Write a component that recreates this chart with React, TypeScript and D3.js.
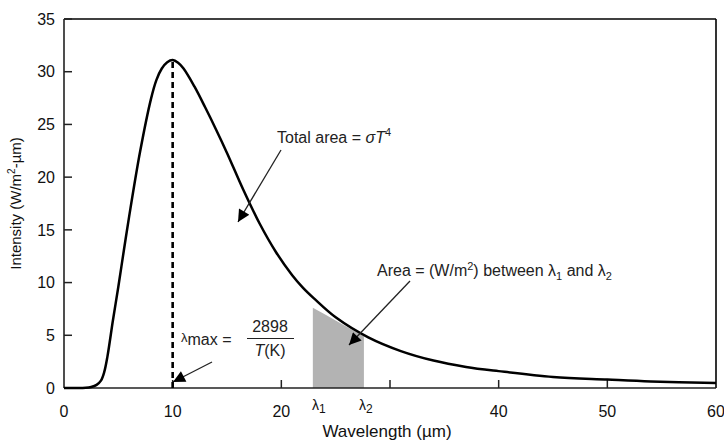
import React from 'react';
import * as d3 from 'd3';

// curve: wavelength (um) and intensity (W/m2-um)
const wavelengths = [0, 1, 2, 2.5, 3, 3.4, 3.7, 4, 4.5, 5, 5.5, 6, 7, 8, 8.5, 9, 9.5, 10, 10.5, 11, 12, 13, 14, 15, 16.5, 18, 19.5, 21, 22, 23, 25, 28, 31, 34, 37, 40, 45, 50, 54, 60];
const intensities = [0, 0, 0.02, 0.1, 0.3, 0.7, 1.5, 3.0, 6.4, 9.6, 13.0, 16.3, 22.4, 27.4, 29.2, 30.3, 30.9, 31.1, 30.85, 30.3, 28.6, 26.6, 24.5, 22.3, 18.8, 15.6, 12.9, 10.7, 9.5, 8.5, 6.7, 4.8, 3.5, 2.6, 2.0, 1.6, 1.05, 0.8, 0.62, 0.48];

// shaded band between lambda1 and lambda2 (top edge)
const shadeWavelengths = [22.9, 25, 27.6];
const shadeTops = [7.6, 6.4, 4.9];

const xTicks = [0, 10, 20, 30, 40, 50, 60];
const xTickLabels = ['0', '10', '20', '', '40', '50', '60'];
const yTicks = [0, 5, 10, 15, 20, 25, 30, 35];
const peakWavelength = 10;
const peakIntensity = 31.1;

const width = 724;
const height = 440;
const margin = { top: 19, right: 8, bottom: 52, left: 64 };

export default function App() {
  const x = d3.scaleLinear().domain([0, 60]).range([margin.left, width - margin.right]);
  const y = d3.scaleLinear().domain([0, 35]).range([height - margin.bottom, margin.top]);

  const pts = wavelengths.map((w, i) => [w, intensities[i]] as [number, number]);
  const line = d3.line<[number, number]>()
    .x(d => x(d[0]))
    .y(d => y(d[1]))
    .curve(d3.curveCatmullRom.alpha(0.5));

  const shadePts = shadeWavelengths.map((w, i) => [w, shadeTops[i]] as [number, number]);
  const area = d3.area<[number, number]>()
    .x(d => x(d[0]))
    .y0(y(0))
    .y1(d => y(d[1]))
    .curve(d3.curveMonotoneX);

  const font = 'Liberation Sans, Arial, Helvetica, sans-serif';
  const x0 = x.range()[0];
  const x1 = x.range()[1];
  const yb = y(0);
  const yt = y(35);

  return (
    <div style={{ position: 'absolute', left: 0, top: 0 }}>
      <svg width={width} height={height} style={{ display: 'block', background: '#fff' }} fontFamily={font}>
        <defs>
          <marker id="arr" viewBox="0 0 10 10" refX="10" refY="5" markerWidth="20" markerHeight="12"
            markerUnits="userSpaceOnUse" orient="auto">
            <path d="M0,0 L10,5 L0,10 z" fill="#000" />
          </marker>
        </defs>

        {/* shaded area */}
        <path d={area(shadePts) ?? ''} fill="#b3b3b3" />

        {/* frame */}
        <line x1={x0} x2={x1} y1={yt} y2={yt} stroke="#000" strokeWidth={1.6} />
        <line x1={x1} x2={x1} y1={yt} y2={yb} stroke="#000" strokeWidth={1.6} />
        <line x1={x0} x2={x0} y1={yt} y2={yb} stroke="#222" strokeWidth={1.6} />
        <line x1={x0} x2={x1} y1={yb} y2={yb} stroke="#222" strokeWidth={1.6} />

        {/* y ticks */}
        {yTicks.map(t => (
          <g key={'y' + t}>
            <line x1={x0} x2={x0 + 8} y1={y(t)} y2={y(t)} stroke="#222" strokeWidth={1.5} />
            <text x={x0 - 9} y={y(t)} dy="0.36em" textAnchor="end" fontSize={16} fill="#111">{t}</text>
          </g>
        ))}

        {/* x ticks */}
        {xTicks.map((t, i) => (
          <g key={'x' + t}>
            {t > 0 && t < 60 && <line x1={x(t)} x2={x(t)} y1={yb} y2={yb - 8} stroke="#222" strokeWidth={1.5} />}
            <text x={x(t)} y={yb + 29} textAnchor="middle" fontSize={16} fill="#111">{xTickLabels[i]}</text>
          </g>
        ))}

        {/* lambda1 / lambda2 */}
        <text x={x(shadeWavelengths[0]) + 6} y={yb + 22} textAnchor="middle" fontSize={14} fill="#111">
          λ<tspan fontSize={12} dy="3">1</tspan>
        </text>
        <text x={x(shadeWavelengths[2]) + 2} y={yb + 22} textAnchor="middle" fontSize={14} fill="#111">
          λ<tspan fontSize={12} dy="3">2</tspan>
        </text>

        {/* axis titles */}
        <text x={387} y={yb + 49} textAnchor="middle" fontSize={17} fill="#111">Wavelength (µm)</text>
        <text transform={`translate(21,${(yt + yb) / 2}) rotate(-90)`} textAnchor="middle" fontSize={15} fill="#111">
          Intensity (W/m<tspan fontSize={10} dy="-6">2</tspan><tspan dy="6">-µm)</tspan>
        </text>

        {/* dashed peak line */}
        <line x1={x(peakWavelength)} x2={x(peakWavelength)} y1={yb} y2={y(peakIntensity)}
          stroke="#000" strokeWidth={2.6} strokeDasharray="6,4" />

        {/* curve */}
        <path d={line(pts) ?? ''} fill="none" stroke="#000" strokeWidth={2.5} />

        {/* annotations */}
        <text x={277} y={143} fontSize={16} fill="#222">
          Total area = <tspan fontStyle="italic">σT</tspan><tspan fontSize={11} dy="-7">4</tspan>
        </text>
        <line x1={281} y1={150} x2={238} y2={222} stroke="#222" strokeWidth={1.3} markerEnd="url(#arr)" />

        <text x={377} y={276} fontSize={16} fill="#222">
          Area = (W/m<tspan fontSize={11} dy="-6">2</tspan><tspan dy="6">) between λ</tspan>
          <tspan fontSize={11} dy="4">1</tspan><tspan dy="-4"> and λ</tspan><tspan fontSize={11} dy="4">2</tspan>
        </text>
        <line x1={410} y1={281} x2={349} y2={345} stroke="#222" strokeWidth={1.3} markerEnd="url(#arr)" />

        <text x={181} y={345} fontSize={16} fill="#222">
          <tspan fontSize={13} dy="-3">λ</tspan><tspan dy="3">max = </tspan>
        </text>
        <text x={270} y={332} textAnchor="middle" fontSize={16} fill="#222">2898</text>
        <line x1={247} x2={294} y1={338.5} y2={338.5} stroke="#222" strokeWidth={1.2} />
        <text x={270} y={356} textAnchor="middle" fontSize={16} fill="#222">
          <tspan fontStyle="italic">T</tspan>(K)
        </text>
        <line x1={212} y1={362} x2={173} y2={382} stroke="#222" strokeWidth={1.3} markerEnd="url(#arr)" />
      </svg>
    </div>
  );
}
